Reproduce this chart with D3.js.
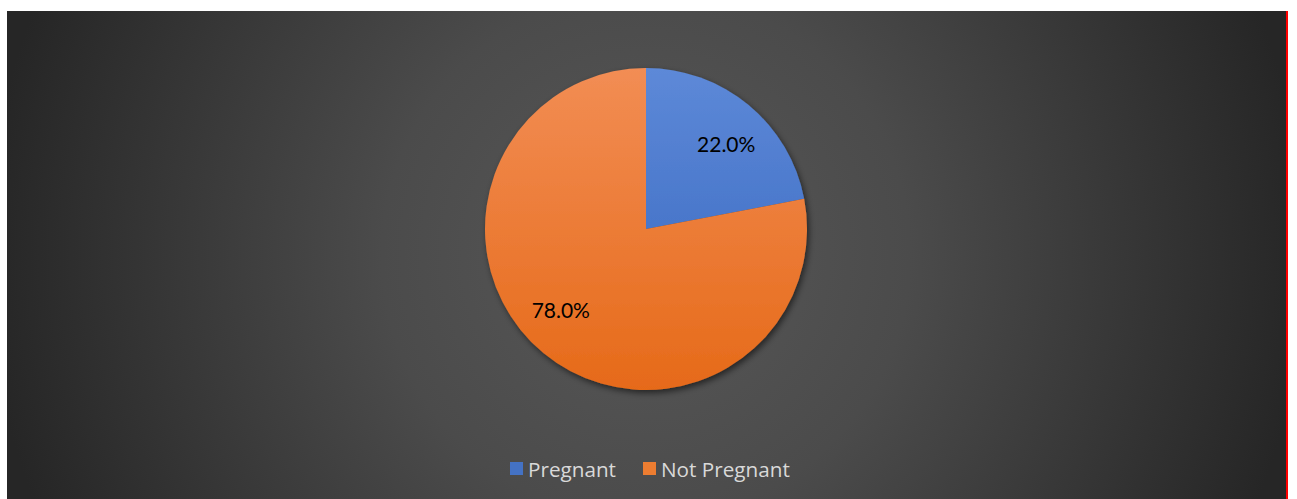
<!DOCTYPE html>
<html>
<head>
<meta charset="utf-8">
<script src="https://cdn.jsdelivr.net/npm/d3@7"></script>
<style>
  html, body { margin: 0; padding: 0; background: #ffffff; }
  svg { display: block; }
</style>
</head>
<body>
<svg id="chart" width="1297" height="499"></svg>
<script>
// Share of respondents by pregnancy status
const categories = ["Pregnant", "Not Pregnant"];
const shares = [22.0, 78.0];
const sliceColors = ["#4472c4", "#ed7d31"];

const W = 1297, H = 499;
const svg = d3.select("#chart");
const defs = svg.append("defs");

// Dark chart-area background with a soft radial glow
const bg = defs.append("radialGradient").attr("id", "bgGrad")
  .attr("gradientUnits", "userSpaceOnUse")
  .attr("cx", 646).attr("cy", 255).attr("r", 660);
bg.append("stop").attr("offset", "0%").attr("stop-color", "#585858");
bg.append("stop").attr("offset", "40%").attr("stop-color", "#4b4b4b");
bg.append("stop").attr("offset", "100%").attr("stop-color", "#262626");

svg.append("rect").attr("x", 7).attr("y", 11).attr("width", 1279).attr("height", H - 11)
  .attr("fill", "url(#bgGrad)");
// Red edge line on the right
svg.append("rect").attr("x", 1286).attr("y", 11).attr("width", 2).attr("height", H - 11)
  .attr("fill", "#ff0000");

// Vertical light-to-dark gradients for each slice
const sliceGrads = [["#5d89d8", "#3564bd"], ["#f28d54", "#e66a19"]];
sliceGrads.forEach((g, i) => {
  const lg = defs.append("linearGradient").attr("id", "slice" + i)
    .attr("gradientUnits", "userSpaceOnUse")
    .attr("x1", 0).attr("y1", -161).attr("x2", 0).attr("y2", 161);
  lg.append("stop").attr("offset", "0%").attr("stop-color", g[0]);
  lg.append("stop").attr("offset", "100%").attr("stop-color", g[1]);
});

const shadow = defs.append("filter").attr("id", "shadow")
  .attr("x", "-20%").attr("y", "-20%").attr("width", "140%").attr("height", "140%");
shadow.append("feDropShadow").attr("dx", 2).attr("dy", 3).attr("stdDeviation", 3)
  .attr("flood-color", "#000").attr("flood-opacity", 0.55);

const cx = 646, cy = 229, R = 161;
const pie = d3.pie().sort(null).value(d => d.v);
const data = categories.map((c, i) => ({ c, v: shares[i], i }));
const arcs = pie(data);
const arc = d3.arc().innerRadius(0).outerRadius(R);

// Data labels sit inside each slice, nudged clockwise a little from the bisector
const labelR = R * 0.73;
const labelShift = [0.06, 0.12];
function labelPos(d) {
  const a = (d.startAngle + d.endAngle) / 2 + labelShift[d.data.i];
  return [labelR * Math.sin(a), -labelR * Math.cos(a)];
}

const g = svg.append("g").attr("transform", `translate(${cx},${cy})`);
g.append("g").attr("filter", "url(#shadow)")
  .selectAll("path").data(arcs).join("path")
  .attr("d", arc)
  .attr("fill", d => `url(#slice${d.data.i})`);

g.selectAll("text.lbl").data(arcs).join("text")
  .attr("class", "lbl")
  .attr("transform", d => `translate(${labelPos(d)})`)
  .attr("text-anchor", "middle")
  .attr("dominant-baseline", "central")
  .attr("font-family", "Lato, 'Open Sans', sans-serif")
  .attr("font-size", 21)
  .attr("fill", "#000")
  .text(d => d.data.v.toFixed(1) + "%");

// Legend
const legend = svg.append("g").attr("font-family", "'Open Sans', sans-serif")
  .attr("font-size", 20.7).attr("fill", "#d9d9d9");
const legendX = [510, 643];
categories.forEach((c, i) => {
  legend.append("rect").attr("x", legendX[i]).attr("y", 462).attr("width", 13).attr("height", 13)
    .attr("fill", sliceColors[i]);
  legend.append("text").attr("x", legendX[i] + 18).attr("y", 468.5)
    .attr("dominant-baseline", "central").text(c);
});
</script>
</body>
</html>
